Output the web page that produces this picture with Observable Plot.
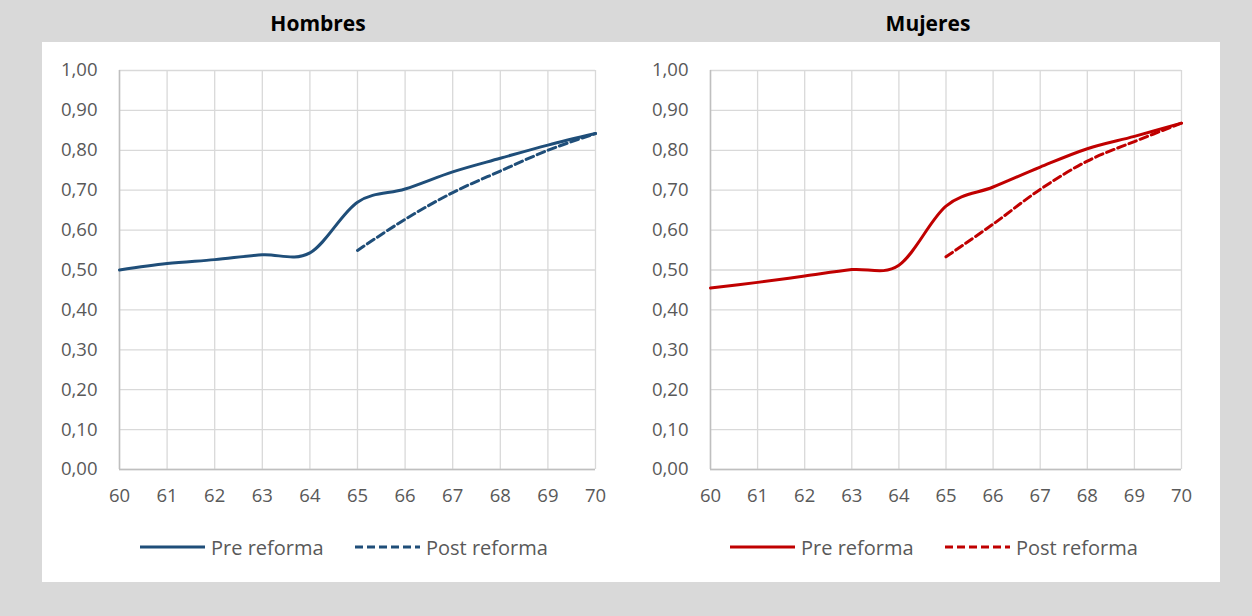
<!DOCTYPE html>
<html><head><meta charset="utf-8">
<script src="https://cdn.jsdelivr.net/npm/d3@7"></script>
<script src="https://cdn.jsdelivr.net/npm/@observablehq/plot@0.6"></script>
<style>
body{margin:0;background:#d9d9d9;width:1252px;height:616px;position:relative;overflow:hidden;font-family:"Open Sans", Lato, sans-serif;}
#panel{position:absolute;left:42px;top:42px;width:1178px;height:540px;background:#fff;}
.title{position:absolute;top:9px;font-weight:bold;font-size:21px;color:#000;transform:translateX(-50%);white-space:nowrap;}
.chart{position:absolute;top:42px;}
.leg{position:absolute;top:534px;height:26px;display:flex;align-items:center;font-size:20px;color:#595959;white-space:nowrap;}
.leg svg{margin-right:6px;}
</style></head>
<body>
<div id="panel"></div>
<div class="title" style="left:318px">Hombres</div>
<div class="title" style="left:928px">Mujeres</div>
<div id="c1" class="chart" style="left:42px"></div>
<div id="c2" class="chart" style="left:632px"></div>
<div id="legends"></div>
<script>
const ages = [60, 61, 62, 63, 64, 65, 66, 67, 68, 69, 70];
const postAges = [65, 66, 67, 68, 69, 70];
const yTicks = [0, 0.1, 0.2, 0.3, 0.4, 0.5, 0.6, 0.7, 0.8, 0.9, 1.0];
const hombresPre = [0.500, 0.516, 0.526, 0.538, 0.543, 0.670, 0.703, 0.746, 0.780, 0.813, 0.842];
const hombresPost = [0.549, 0.627, 0.694, 0.748, 0.800, 0.842];
const mujeresPre = [0.455, 0.469, 0.485, 0.501, 0.512, 0.660, 0.708, 0.758, 0.804, 0.835, 0.868];
const mujeresPost = [0.533, 0.615, 0.702, 0.773, 0.822, 0.868];
const seriesNames = ["Pre reforma", "Post reforma"];
const colorHombres = "#1f4e79";
const colorMujeres = "#c00000";

const fmtY = d => d3.format(".2f")(d).replace(".", ",");

function chart(pre, post, color, width, mLeft, mRight) {
  const preData = ages.map((a, i) => ({age: a, v: pre[i]}));
  const postData = postAges.map((a, i) => ({age: a, v: post[i]}));
  return Plot.plot({
    width, height: 480,
    marginLeft: mLeft, marginRight: mRight, marginTop: 28, marginBottom: 53,
    style: {fontFamily: "'Open Sans', Lato, sans-serif", fontSize: "18.5px", color: "#595959", background: "transparent"},
    x: {domain: [60, 70]},
    y: {domain: [0, 1]},
    marks: [
      Plot.gridX(ages, {stroke: "#d9d9d9", strokeOpacity: 1, strokeWidth: 1.3}),
      Plot.gridY(yTicks, {stroke: "#d9d9d9", strokeOpacity: 1, strokeWidth: 1.3}),
      Plot.ruleX([60], {stroke: "#bfbfbf", strokeWidth: 1.5}),
      Plot.ruleY([0], {stroke: "#bfbfbf", strokeWidth: 1.5}),
      Plot.axisX(ages, {tickSize: 0, tickPadding: 19, tickFormat: d => String(d), label: null}),
      Plot.axisY(yTicks, {tickSize: 0, tickPadding: 22, tickFormat: fmtY, label: null}),
      Plot.line(preData, {x: "age", y: "v", curve: "cardinal", stroke: color, strokeWidth: 3}),
      Plot.line(postData, {x: "age", y: "v", curve: "cardinal", stroke: color, strokeWidth: 3, strokeDasharray: "8,4"})
    ]
  });
}

document.getElementById("c1").append(chart(hombresPre, hombresPost, colorHombres, 590, 77, 37));
document.getElementById("c2").append(chart(mujeresPre, mujeresPost, colorMujeres, 588, 78, 39));

function legendItem(left, name, color, dashed) {
  const div = document.createElement("div");
  div.className = "leg";
  div.style.left = left + "px";
  div.innerHTML = `<svg width="65" height="6"><line x1="0" y1="3" x2="65" y2="3" stroke="${color}" stroke-width="3" ${dashed ? 'stroke-dasharray="8,4"' : ''}/></svg><span>${name}</span>`;
  document.getElementById("legends").append(div);
}
legendItem(140, seriesNames[0], colorHombres, false);
legendItem(355, seriesNames[1], colorHombres, true);
legendItem(730, seriesNames[0], colorMujeres, false);
legendItem(945, seriesNames[1], colorMujeres, true);
</script>
</body></html>
